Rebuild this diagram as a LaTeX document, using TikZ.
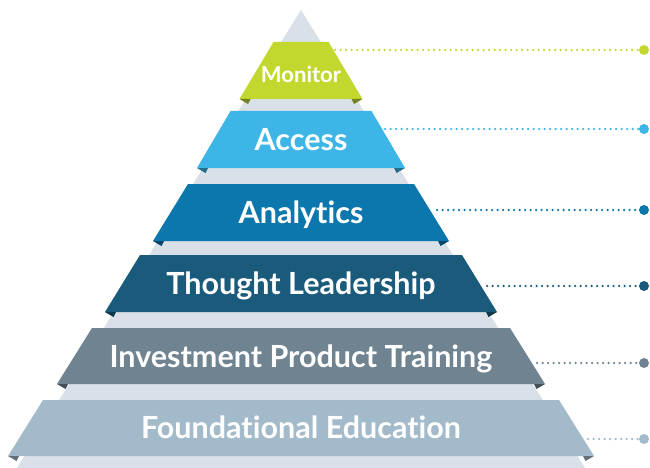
\documentclass[tikz,border=0pt]{standalone}
\usepackage{fontspec}
\setmainfont{Lato}[Ligatures=NoCommon]
\definecolor{cMon}{HTML}{C2D82E}
\definecolor{cAcc}{HTML}{3DB5E6}
\definecolor{cAna}{HTML}{0B77AD}
\definecolor{cTL}{HTML}{1A5B7C}
\definecolor{cIPT}{HTML}{6F8391}
\definecolor{cFE}{HTML}{A3BACA}
\definecolor{cGray}{HTML}{D9E0E8}
\tikzset{
  fold/.style={fill=#1!60!black},
  lbl/.style={text=white, font=\bfseries\fontsize{30.5}{30.5}\selectfont, anchor=base, inner sep=0pt},
  conn/.style={draw=#1, line width=2.5pt, dash pattern=on 0pt off 5.5pt, line cap=round},
  enddot/.style={circle, fill=#1, minimum size=10pt, inner sep=0pt},
}
\begin{document}
\begin{tikzpicture}[x=1pt, y=-1pt]
\useasboundingbox (0,0) rectangle (650,468);
% background pyramid
\fill[cGray] (301,10) -- (585,468) -- (17,468) -- cycle;
% Monitor
\fill[cMon] (273.5,42) -- (328.5,42) -- (362.5,99) -- (239.5,99) -- cycle;
\fill[fold=cMon] (239.5,99) -- (250.5,99) -- (248,104) -- cycle;
\fill[fold=cMon] (362.5,99) -- (351.5,99) -- (354,104) -- cycle;
\node[lbl, font=\bfseries\fontsize{22}{22}\selectfont] (tMon) at (301,82.5) {Monitor};
% Access
\fill[cAcc] (230.5,111) -- (371.5,111) -- (405,168) -- (197,168) -- cycle;
\fill[fold=cAcc] (197,168) -- (208,168) -- (205.5,173) -- cycle;
\fill[fold=cAcc] (405,168) -- (394,168) -- (396.5,173) -- cycle;
\node[lbl] (tAcc) at (301,150.5) {Access};
% Analytics
\fill[cAna] (188,184) -- (414,184) -- (449,241) -- (153,241) -- cycle;
\fill[fold=cAna] (153,241) -- (164,241) -- (161.5,246) -- cycle;
\fill[fold=cAna] (449,241) -- (438,241) -- (440.5,246) -- cycle;
\node[lbl] (tAna) at (301,223.5) {Analytics};
% Thought Leadership
\fill[cTL] (140,255) -- (462,255) -- (497,312) -- (105,312) -- cycle;
\fill[fold=cTL] (105,312) -- (116,312) -- (113.5,317) -- cycle;
\fill[fold=cTL] (497,312) -- (486,312) -- (488.5,317) -- cycle;
\node[lbl] (tTL) at (301,294.5) {Thought Leadership};
% Investment Product Training
\fill[cIPT] (92,328) -- (510,328) -- (545,384) -- (57,384) -- cycle;
\fill[fold=cIPT] (57,384) -- (68,384) -- (65.5,389) -- cycle;
\fill[fold=cIPT] (545,384) -- (534,384) -- (536.5,389) -- cycle;
\node[lbl] (tIPT) at (301,367) {Investment Product Training};
% Foundational Education
\fill[cFE] (43,400) -- (559,400) -- (594,456) -- (8,456) -- cycle;
\fill[fold=cFE] (8,456) -- (19,456) -- (16.5,461) -- cycle;
\fill[fold=cFE] (594,456) -- (583,456) -- (585.5,461) -- cycle;
\node[lbl] (tFE) at (301,438.5) {Foundational Education};
% connectors
\coordinate (sMon) at (335,50);
\coordinate (sAcc) at (385,129);
\coordinate (sAna) at (437,210);
\coordinate (sTL) at (487,286);
\coordinate (sIPT) at (537,363);
\coordinate (sFE) at (588,439);
\node[enddot=cMon] (dMon) at (644,50) {};
\node[enddot=cAcc] (dAcc) at (644,129) {};
\node[enddot=cAna] (dAna) at (644,210) {};
\node[enddot=cTL] (dTL) at (644,286) {};
\node[enddot=cIPT] (dIPT) at (644,363) {};
\node[enddot=cFE] (dFE) at (644,439) {};
\draw[conn=cMon] (sMon) -- (dMon);
\draw[conn=cAcc] (sAcc) -- (dAcc);
\draw[conn=cAna] (sAna) -- (dAna);
\draw[conn=cTL] (sTL) -- (dTL);
\draw[conn=cIPT] (sIPT) -- (dIPT);
\draw[conn=cFE] (sFE) -- (dFE);
\end{tikzpicture}
\end{document}
